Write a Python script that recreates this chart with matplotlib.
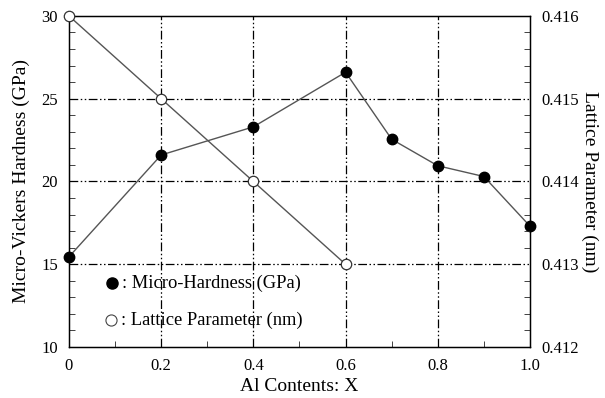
import numpy as np
import matplotlib
matplotlib.use('Agg')
from matplotlib import pyplot as plt
from matplotlib.ticker import MultipleLocator, FormatStrFormatter

plt.rcParams['font.family'] = ['Liberation Serif', 'DejaVu Serif']

# Al content and measured values
al_x = [0, 0.2, 0.4, 0.6, 0.7, 0.8, 0.9, 1.0]
hardness = [15.45, 21.6, 23.3, 26.6, 22.55, 20.95, 20.3, 17.3]
lat_x = [0, 0.2, 0.4, 0.6]
lattice = [0.416, 0.415, 0.414, 0.413]

x_ticks = [0, 0.2, 0.4, 0.6, 0.8, 1.0]
x_ticklabels = ['0', '0.2', '0.4', '0.6', '0.8', '1.0']

fig = plt.figure(figsize=(6.05, 3.98), dpi=100)
ax = fig.add_axes([0.114, 0.128, 0.762, 0.832])
ax2 = ax.twinx()

grid_dash = (0, (7, 2, 1.2, 2, 1.2, 2))
for gx in [0.2, 0.4, 0.6, 0.8]:
    ax.axvline(gx, color='k', lw=0.9, linestyle=grid_dash, zorder=1)
for gy in [15, 20, 25]:
    ax.axhline(gy, color='k', lw=0.9, linestyle=grid_dash, zorder=1)

ax.plot(al_x, hardness, color='#555555', lw=1.0, marker='o', ms=7.5,
        mfc='k', mec='k', zorder=3, clip_on=False)
ax2.plot(lat_x, lattice, color='#555555', lw=1.0, marker='o', ms=7.5,
         mfc='white', mec='#333333', mew=0.9, zorder=3, clip_on=False)

ax.set_xlim(0, 1.0)
ax.set_ylim(10, 30)
ax2.set_ylim(0.412, 0.416)

ax.set_xticks(x_ticks)
ax.set_xticklabels(x_ticklabels)
ax.xaxis.set_minor_locator(MultipleLocator(0.1))
ax.yaxis.set_major_locator(MultipleLocator(5))
ax.yaxis.set_minor_locator(MultipleLocator(1))
ax2.yaxis.set_major_locator(MultipleLocator(0.001))
ax2.yaxis.set_minor_locator(MultipleLocator(0.0002))
ax2.yaxis.set_major_formatter(FormatStrFormatter('%.3f'))

for a in (ax, ax2):
    a.tick_params(which='both', direction='in', labelsize=12, color='#222222')
    a.tick_params(which='major', length=0, pad=6)
    a.tick_params(which='minor', length=4)
ax.tick_params(axis='x', which='major', length=0, pad=8)
ax.tick_params(axis='y', which='major', pad=8)
ax2.tick_params(axis='y', which='major', pad=8)
ax.tick_params(right=False, top=False, which='both')
for s in ax.spines.values():
    s.set_linewidth(1.0)

ax.set_xlabel('Al Contents: X', fontsize=14, labelpad=3)
ax.set_ylabel('Micro-Vickers Hardness (GPa)', fontsize=14, labelpad=8)
ax2.set_ylabel('Lattice Parameter (nm)', fontsize=14, rotation=270, labelpad=14)

# legend drawn as marker + text inside the axes
ax.plot([0.093], [13.87], 'o', ms=8, mfc='k', mec='k', zorder=4)
ax.text(0.115, 13.87, ': Micro-Hardness (GPa)', fontsize=13.3, va='center', zorder=4)
ax.plot([0.091], [11.63], 'o', ms=8, mfc='white', mec='#444444', mew=0.8, zorder=4)
ax.text(0.112, 11.63, ': Lattice Parameter (nm)', fontsize=13.3, va='center', zorder=4)

fig.savefig('out.png', dpi=100)
